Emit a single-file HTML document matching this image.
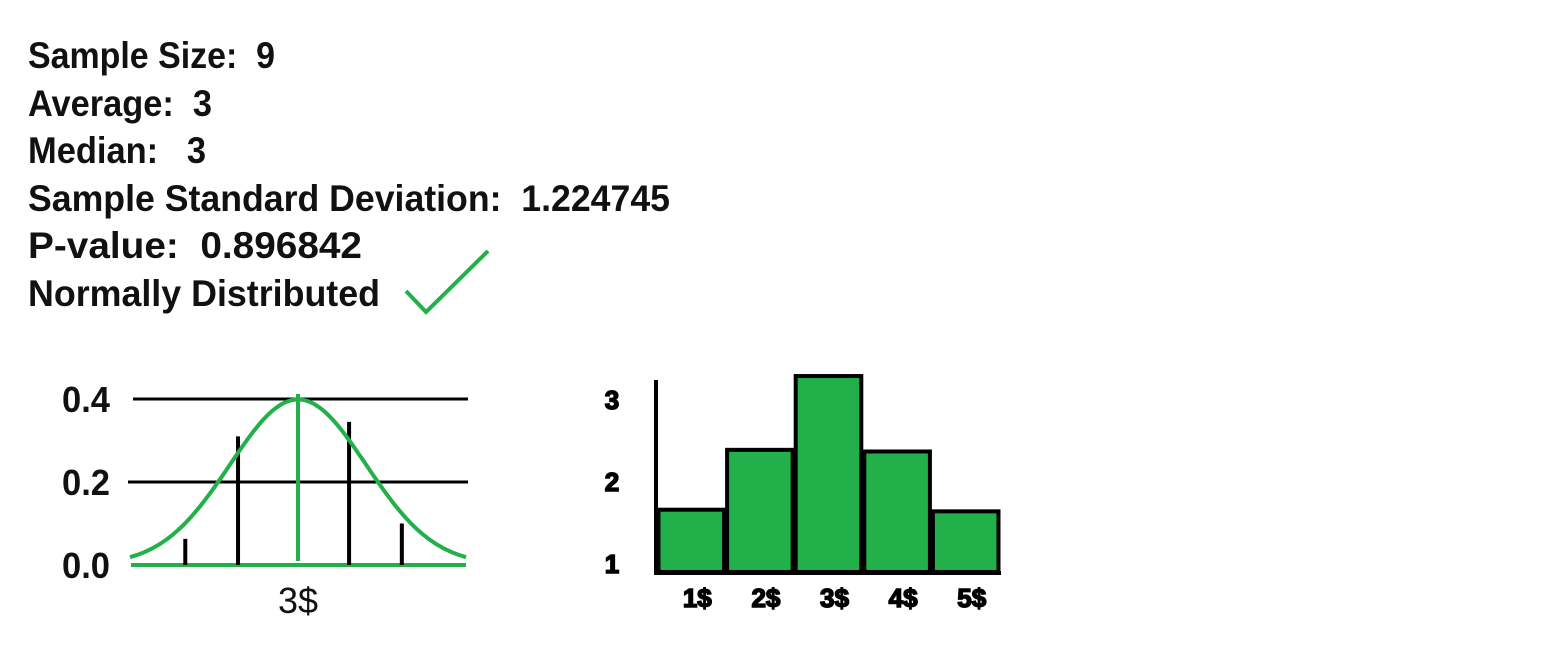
<!DOCTYPE html>
<html><head><meta charset="utf-8"><style>
html,body{margin:0;padding:0;background:#fff;}
svg{display:block;}
text{font-family:"Liberation Sans",sans-serif;white-space:pre;}
</style></head><body>
<svg id="c" width="1548" height="653" viewBox="0 0 1548 653">
<g font-weight="bold" font-size="37" fill="#111" xml:space="preserve">
<text x="28" y="68" textLength="247" lengthAdjust="spacingAndGlyphs">Sample Size:  9</text>
<text x="28" y="116" textLength="184" lengthAdjust="spacingAndGlyphs">Average:  3</text>
<text x="28" y="163" textLength="178" lengthAdjust="spacingAndGlyphs">Median:   3</text>
<text x="28" y="211" textLength="642" lengthAdjust="spacingAndGlyphs">Sample Standard Deviation:  1.224745</text>
<text x="28" y="258" textLength="334" lengthAdjust="spacingAndGlyphs">P-value:  0.896842</text>
<text x="28" y="306" textLength="352" lengthAdjust="spacingAndGlyphs">Normally Distributed</text>
</g>
<polyline points="406,291 426,312 488,251" fill="none" stroke="#22b04b" stroke-width="4"/>
<g id="normal"></g>
<g id="hist"></g>
</svg>
<script>
const NS='http://www.w3.org/2000/svg';
// normal chart data
const normYTicks=[0.0,0.2,0.4];
const normYTickLabels=['0.0','0.2','0.4'];
const normMean=3;
const normSD=1.224745;
const markerX=[0.97,1.92,3.92,4.87];
const markerH=[0.063,0.31,0.345,0.10];
const normXLabel='3$';
// histogram data
const histCats=['1$','2$','3$','4$','5$'];
const histValues=[1.65,2.38,3.28,2.36,1.63];
const histYTicks=[1,2,3];

function mk(tag,attrs,parent){const e=document.createElementNS(NS,tag);for(const k in attrs)e.setAttribute(k,attrs[k]);parent.appendChild(e);return e;}

// normal chart
const gN=document.getElementById('normal');
const pxPerSD=68;
const nx=v=>298+(v-normMean)/normSD*pxPerSD;
const ny=v=>565-v/0.4*166;
const zMax=(466-298)/pxPerSD;
normYTicks.forEach((t,i)=>{
  if(t>0){const l=mk('line',{x1:i==2?133:128,x2:468,y1:ny(t),y2:ny(t),stroke:'#000','stroke-width':3},gN);
  
  }
  const tx=mk('text',{x:62,y:ny(t)+13,'font-size':36,'font-weight':'bold',fill:'#111',textLength:48,lengthAdjust:'spacingAndGlyphs'},gN);
  tx.textContent=normYTickLabels[i];
  
  
});
const base=mk('line',{x1:131,x2:466,y1:ny(0),y2:ny(0),stroke:'#22b04b','stroke-width':4},gN);


markerX.forEach((m,i)=>{
  const l=mk('line',{x1:nx(m),x2:nx(m),y1:ny(0),y2:ny(markerH[i]),stroke:'#000','stroke-width':4},gN);
  
  
});
let pts=[];
for(let i=0;i<=120;i++){const z=-zMax+2*zMax*i/120;const v=normMean+z*normSD;const p=Math.exp(-z*z/2)/Math.sqrt(2*Math.PI);pts.push(nx(v).toFixed(1)+','+ny(p).toFixed(1));}
const curve=mk('polyline',{points:pts.join(' '),fill:'none',stroke:'#22b04b','stroke-width':4},gN);


const ml=mk('line',{x1:nx(normMean),x2:nx(normMean),y1:ny(0)-4,y2:ny(0.4)-5,stroke:'#22b04b','stroke-width':4},gN);


const xl=mk('text',{x:nx(normMean),y:613,'text-anchor':'middle','font-size':36,fill:'#111'},gN);
xl.textContent=normXLabel;



// histogram
const gH=document.getElementById('hist');
const hy=v=>563-(v-1)*82;
const bw=68.6, hx0=657;
const hx=i=>hx0+i*bw;
histValues.forEach((v,i)=>{
  const r=mk('rect',{x:hx(i)+1.5,y:hy(v),width:bw-3,height:572-hy(v),fill:'#22b04b',stroke:'#000','stroke-width':4},gH);
  
  
  const t=mk('text',{x:hx(i)+bw/2+6,y:607,'text-anchor':'middle','font-size':26,'font-weight':'bold',fill:'#000',stroke:'#000','stroke-width':1.5},gH);
  t.textContent=histCats[i];
  
  
});
histYTicks.forEach(t=>{
  const tx=mk('text',{x:612,y:hy(t)+10,'text-anchor':'middle','font-size':26,'font-weight':'bold',fill:'#000',stroke:'#000','stroke-width':1.5},gH);
  tx.textContent=String(t);
  
  
});
const ya=mk('line',{x1:656,x2:656,y1:380,y2:573,stroke:'#000','stroke-width':4},gH);


const xa=mk('line',{x1:654,x2:1001,y1:573,y2:573,stroke:'#000','stroke-width':4},gH);


</script>
</body></html>
